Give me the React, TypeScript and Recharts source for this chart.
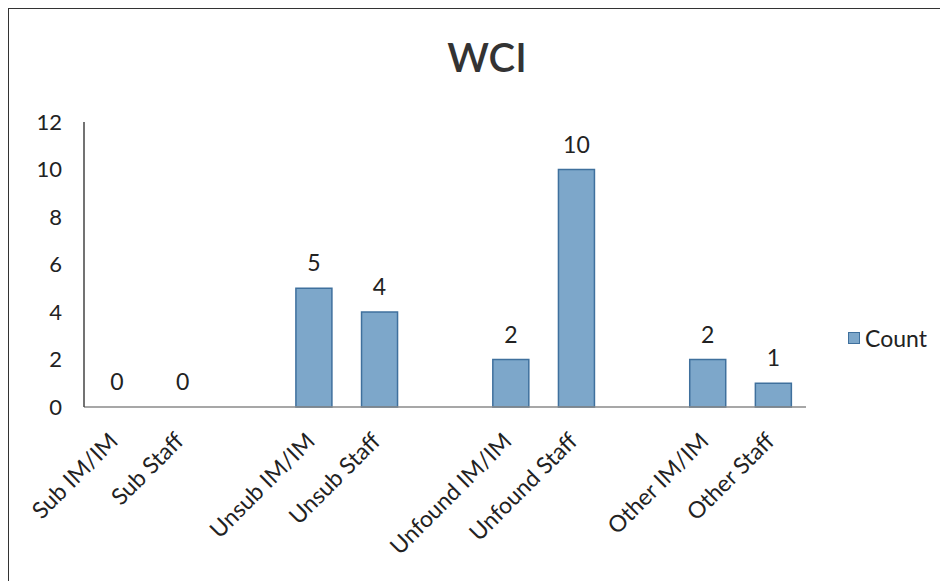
import { BarChart, Bar, XAxis, YAxis, LabelList, Cell } from "recharts";

// ── Data ──────────────────────────────────────────────────────────────────────

// empty strings are the spacer slots between the groups
const CATEGORIES = [
  "Sub IM/IM",
  "Sub Staff",
  "",
  "Unsub IM/IM",
  "Unsub Staff",
  "",
  "Unfound IM/IM",
  "Unfound Staff",
  "",
  "Other IM/IM",
  "Other Staff",
];

const COUNTS: (number | null)[] = [0, 0, null, 5, 4, null, 2, 10, null, 2, 1];

const Y_TICKS = [0, 2, 4, 6, 8, 10, 12];

const SERIES_NAME = "Count";

// ── Style ─────────────────────────────────────────────────────────────────────

const FONT = "Lato, 'Open Sans', sans-serif";
const BAR_FILL = "#7DA7CA";
const BAR_STROKE = "#3F709D";
const TEXT = "#222222";

const chartData = CATEGORIES.map((name, i) => ({
  id: i,
  name,
  count: COUNTS[i],
}));

// value label above each bar, zeros included
function ValueLabel(props: any) {
  const { x, y, width, height, value } = props;
  if (value === null || value === undefined) return null;
  // zero bars get a tiny min size so they exist; anchor them on the axis
  const top = value === 0 ? Number(y) + Number(height) : Number(y);
  return (
    <text
      x={Number(x) + Number(width) / 2}
      y={top - 17}
      textAnchor="middle"
      fontSize={23}
      fontFamily={FONT}
      fill={TEXT}
    >
      {value}
    </text>
  );
}

export default function App() {
  return (
    <div
      style={{
        position: "relative",
        width: 940,
        height: 573,
        borderLeft: "1.5px solid #333",
        borderTop: "1.5px solid #333",
        background: "#fff",
        fontFamily: FONT,
        color: TEXT,
      }}
    >
      <div
        style={{
          position: "absolute",
          left: 478,
          top: 28,
          transform: "translateX(-50%)",
          fontSize: 40,
          lineHeight: 1,
          fontWeight: 600,
          color: "#333",
        }}
      >
        WCI
      </div>

      <BarChart
        width={938}
        height={571}
        data={chartData}
        margin={{ top: 113, right: 141, bottom: 43, left: 0 }}
        barSize={36}
      >
        <XAxis
          dataKey="id"
          type="category"
          interval={0}
          tickFormatter={(i: number) => CATEGORIES[i]}
          axisLine={{ stroke: "#8a8a8a", strokeWidth: 1.5 }}
          tickLine={false}
          tickSize={0}
          tickMargin={24}
          height={130}
          angle={-45}
          textAnchor="end"
          tick={{ fontSize: 23, fill: TEXT, fontFamily: FONT, dx: -9 }}
        />
        <YAxis
          domain={[0, 12]}
          ticks={Y_TICKS}
          width={75}
          axisLine={{ stroke: "#444", strokeWidth: 1.5 }}
          tickLine={false}
          tickSize={0}
          tickMargin={22}
          tick={{ fontSize: 22, fill: TEXT, fontFamily: FONT }}
        />
        <Bar
          dataKey="count"
          name={SERIES_NAME}
          fill={BAR_FILL}
          stroke={BAR_STROKE}
          strokeWidth={1.5}
          minPointSize={(v: any) => (v === 0 ? 0.01 : 0)}
          isAnimationActive={false}
        >
          {chartData.map((d) => (
            <Cell
              key={d.id}
              fill={d.count === 0 ? "none" : BAR_FILL}
              stroke={d.count === 0 ? "none" : BAR_STROKE}
            />
          ))}
          <LabelList dataKey="count" content={ValueLabel} />
        </Bar>
      </BarChart>

      {/* Legend */}
      <div
        style={{
          position: "absolute",
          left: 839,
          top: 314,
          display: "flex",
          alignItems: "center",
          gap: 5,
          fontSize: 23,
          lineHeight: "30px",
        }}
      >
        <span
          style={{
            width: 10,
            height: 10,
            background: BAR_FILL,
            border: `1px solid ${BAR_STROKE}`,
          }}
        />
        <span>{SERIES_NAME}</span>
      </div>
    </div>
  );
}
